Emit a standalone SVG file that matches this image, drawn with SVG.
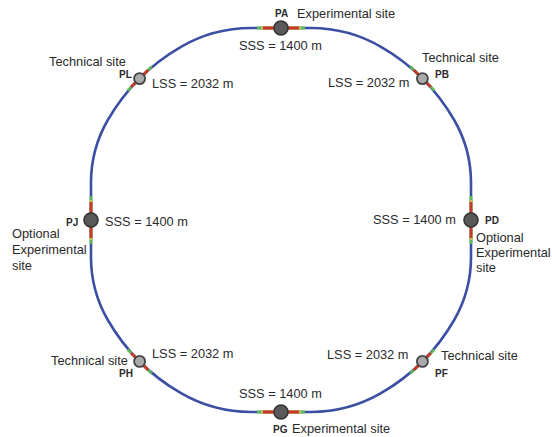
<svg xmlns="http://www.w3.org/2000/svg" width="552" height="437" viewBox="0 0 552 437">
<style>
text{font-family:"Liberation Sans",Arial,sans-serif;fill:#2a2a2a}
.t{font-size:12.8px}
.b{font-size:10px;font-weight:bold}
.ring{fill:none;stroke:#3b4fa3;stroke-width:2.6}
.g{stroke:#5cb85c;stroke-width:2.8}
.y{stroke:#c9c24a;stroke-width:2.8}
.r{stroke:#c8362e;stroke-width:2.8}
.exp{fill:#595959;stroke:#333;stroke-width:1.6}
.tec{fill:#aaaaaa;stroke:#444;stroke-width:1.8}
</style>
<rect width="552" height="437" fill="#fff"/>
<g id="connectors">
<path class="ring" d="M281,28 L311,28 A140,140 0 0 1 381,46.8 A200,200 0 0 1 454.2,120 A125.4,125.4 0 0 1 471,182.7 L471,257.3 A125.4,125.4 0 0 1 454.2,320 A200,200 0 0 1 381,393.2 A140,140 0 0 1 311,412 L251,412 A140,140 0 0 1 181,393.2 A200,200 0 0 1 107.8,320 A125.4,125.4 0 0 1 91,257.3 L91,182.7 A125.4,125.4 0 0 1 107.8,120 A200,200 0 0 1 181,46.8 A140,140 0 0 1 251,28 Z"/>
<!-- A -->
<line class="g" x1="257" y1="28" x2="305" y2="28"/>
<line class="y" x1="261" y1="28" x2="301" y2="28"/>
<line class="r" x1="263" y1="28" x2="299" y2="28"/>
<!-- G -->
<line class="g" x1="257" y1="412" x2="305" y2="412"/>
<line class="y" x1="261" y1="412" x2="301" y2="412"/>
<line class="r" x1="263" y1="412" x2="299" y2="412"/>
<!-- J -->
<line class="g" x1="91" y1="196" x2="91" y2="244"/>
<line class="y" x1="91" y1="200" x2="91" y2="240"/>
<line class="r" x1="91" y1="202" x2="91" y2="238"/>
<!-- D -->
<line class="g" x1="471" y1="196" x2="471" y2="244"/>
<line class="y" x1="471" y1="200" x2="471" y2="240"/>
<line class="r" x1="471" y1="202" x2="471" y2="238"/>
<!-- L -->
<line class="g" x1="127.6" y1="90.6" x2="151.6" y2="66.6"/>
<line class="r" x1="131.1" y1="87.1" x2="148.1" y2="70.1"/>
<!-- B -->
<line class="g" x1="410.4" y1="66.6" x2="434.4" y2="90.6"/>
<line class="r" x1="413.9" y1="70.1" x2="430.9" y2="87.1"/>
<!-- H -->
<line class="g" x1="127.6" y1="349.4" x2="151.6" y2="373.4"/>
<line class="r" x1="131.1" y1="352.9" x2="148.1" y2="369.9"/>
<!-- F -->
<line class="g" x1="410.4" y1="373.4" x2="434.4" y2="349.4"/>
<line class="r" x1="413.9" y1="369.9" x2="430.9" y2="352.9"/>
</g>
<g id="PA">
<circle class="exp" cx="281" cy="28" r="7"/>
<text class="b" x="275" y="17">PA</text>
<text class="t" x="297" y="18">Experimental site</text>
<text class="t" x="239" y="50">SSS = 1400 m</text>
</g>
<g id="PB">
<circle class="tec" cx="422.4" cy="78.6" r="5.5"/>
<text class="b" x="435" y="78">PB</text>
<text class="t" x="422" y="62">Technical site</text>
<text class="t" x="328" y="87">LSS = 2032 m</text>
</g>
<g id="PD">
<circle class="exp" cx="471" cy="220" r="7"/>
<text class="b" x="485" y="224">PD</text>
<text class="t" x="373" y="224">SSS = 1400 m</text>
<text class="t" x="476" y="242">Optional</text>
<text class="t" x="476" y="257">Experimental</text>
<text class="t" x="476" y="272">site</text>
</g>
<g id="PF">
<circle class="tec" cx="422.4" cy="361.4" r="5.5"/>
<text class="b" x="435" y="377">PF</text>
<text class="t" x="441" y="360">Technical site</text>
<text class="t" x="327" y="359">LSS = 2032 m</text>
</g>
<g id="PG">
<circle class="exp" cx="281" cy="412" r="7"/>
<text class="b" x="273" y="433">PG</text>
<text class="t" x="292" y="433">Experimental site</text>
<text class="t" x="239" y="398">SSS = 1400 m</text>
</g>
<g id="PH">
<circle class="tec" cx="139.6" cy="361.4" r="5.5"/>
<text class="b" x="119" y="377">PH</text>
<text class="t" x="51" y="365">Technical site</text>
<text class="t" x="152" y="358">LSS = 2032 m</text>
</g>
<g id="PJ">
<circle class="exp" cx="91" cy="220" r="7"/>
<text class="b" x="66" y="226">PJ</text>
<text class="t" x="105" y="226">SSS = 1400 m</text>
<text class="t" x="12" y="238">Optional</text>
<text class="t" x="12" y="254">Experimental</text>
<text class="t" x="12" y="270">site</text>
</g>
<g id="PL">
<circle class="tec" cx="139.6" cy="78.6" r="5.5"/>
<text class="b" x="119" y="78">PL</text>
<text class="t" x="49" y="66">Technical site</text>
<text class="t" x="152" y="88">LSS = 2032 m</text>
</g>
</svg>
